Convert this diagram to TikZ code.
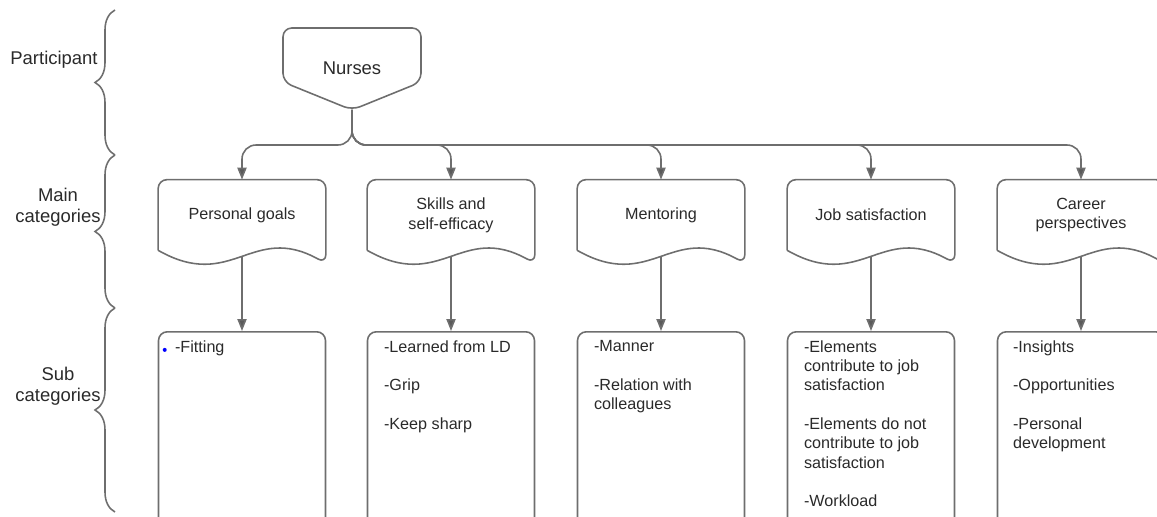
\documentclass[tikz,border=0pt]{standalone}
\usepackage{fontspec}
\setmainfont{Liberation Sans}
\usetikzlibrary{calc}
\usetikzlibrary{arrows.meta,decorations.pathreplacing}

\definecolor{linegray}{HTML}{6E6E6E}
\definecolor{tipgray}{HTML}{5A5A5A}
\definecolor{txtgray}{HTML}{2A2A2A}

\tikzset{
  catbox/.style={minimum width=3.34cm,minimum height=1.4cm,inner sep=0pt,align=center,
    text=txtgray,font=\fontsize{9.2}{11.3}\selectfont},
  docline/.style={draw=linegray,line width=0.9pt,rounded corners=5pt},
  subbox/.style={draw=linegray,line width=0.9pt,rounded corners=5pt,anchor=north,
    minimum width=3.34cm,minimum height=4.2cm,inner sep=0pt},
  subtext/.style={anchor=north west,inner sep=0pt,align=left,
    text=txtgray,font=\fontsize{9.2}{11}\selectfont},
  flow/.style={draw=linegray,line width=0.9pt,
    -{Triangle[length=6.8pt,width=5.2pt,fill=tipgray]}},
  sidelabel/.style={align=center,text=txtgray,font=\fontsize{10.5}{12}\selectfont},
  levelbrace/.style={draw=linegray,line width=0.9pt,decorate,
    decoration={brace,amplitude=0.4cm}}
}

\begin{document}
\begin{tikzpicture}[x=0.02cm,y=-0.02cm]
\clip (0,0) rectangle (1157,517);

% levels on the left
\coordinate (L0) at (115,10);
\coordinate (L1) at (115,155);
\coordinate (L2) at (115,308);
\coordinate (L3) at (115,512);
\draw[levelbrace] (L1)--(L0);
\draw[levelbrace] (L2)--(L1);
\draw[levelbrace] (L3)--(L2);
\node[sidelabel] (part) at (54,60) {Participant};
\node[sidelabel] (maincat) at (58,207) {Main\\categories};
\node[sidelabel] (subcat) at (58,386) {Sub\\categories};

% participant
\node[text=txtgray,font=\fontsize{10.5}{12}\selectfont] (nurses) at (352,68) {Nurses};
\coordinate (ntip) at (352,110);
\draw[docline] (283,82)--(283,28)--(421,28)--(421,82)--(ntip)--cycle;

% main categories
\node[catbox] (pg) at (242,215) {Personal goals};
\node[catbox] (sk) at (451,215) {Skills and\\self-efficacy};
\node[catbox] (me) at (661,215) {Mentoring};
\node[catbox] (js) at (871,215) {Job satisfaction};
\node[catbox] (cp) at (1081,215) {Career\\perspectives};
\foreach \c in {pg,sk,me,js,cp}{
  \draw[docline] (\c.south west)--(\c.north west)--(\c.north east)--($(\c.south east)+(0,13)$)
    .. controls ($(\c.south)+(10,-28)$) and ($(\c.south)+(-10,42)$) .. (\c.south west);
}

% nurses to main categories
\foreach \c in {pg,sk,me,js,cp}{
  \draw[flow,rounded corners=8pt] (ntip)--++(0,35)-|(\c.north);
}

% sub categories
\node[subbox] (pgs) at (242,331) {};
\node[subbox] (sks) at (451,331) {};
\node[subbox] (mes) at (661,331) {};
\node[subbox] (jss) at (871,331) {};
\node[subbox] (cps) at (1081,331) {};
\foreach \c in {pg,sk,me,js,cp}{
  \draw[flow] ($(\c.south)+(0,7)$)--(\c s.north);
}

\node[subtext] (pgt) at ($(pgs.north west)+(17,9)$) {-Fitting};
\fill[blue] ($(pgt.west)+(-10,2)$) circle (2);
\node[subtext] (skt) at ($(sks.north west)+(17,9)$) {-Learned from LD\\[11pt]-Grip\\[11pt]-Keep sharp};
\node[subtext] (met) at ($(mes.north west)+(17,9)$) {-Manner\\[11pt]-Relation with\\colleagues};
\node[subtext] (jst) at ($(jss.north west)+(17,9)$) {-Elements\\contribute to job\\satisfaction\\[11pt]-Elements do not\\contribute to job\\satisfaction\\[11pt]-Workload};
\node[subtext] (cpt) at ($(cps.north west)+(16,9)$) {-Insights\\[11pt]-Opportunities\\[11pt]-Personal\\development};

\end{tikzpicture}
\end{document}
